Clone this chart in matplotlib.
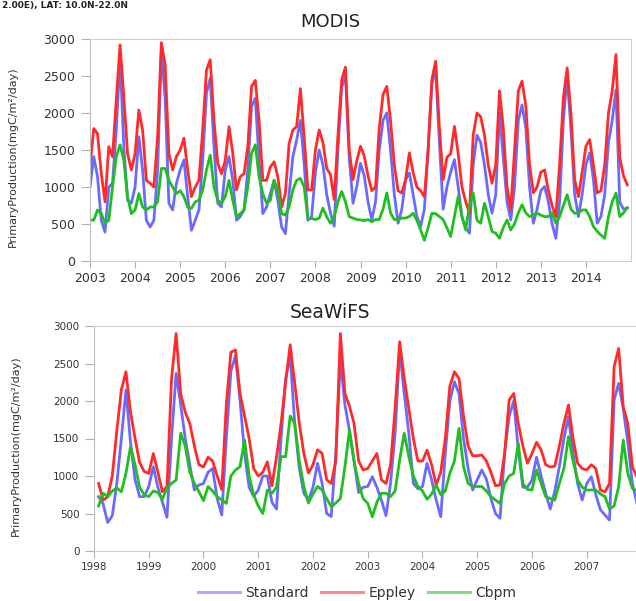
import numpy as np
import matplotlib.pyplot as plt
from matplotlib.lines import Line2D

plt.rcParams["font.family"] = ["DejaVu Sans"]

# MODIS monthly primary production, Jan 2003 - Dec 2014 (mgC/m2/day)
modis_start = 2003.0
modis_standard = [
    1000, 1410, 1140, 550, 390, 1000, 1050, 1770, 2760, 1545, 820, 780,     # 2003
    1000, 1680, 1230, 550, 460, 550, 1230, 2850, 2200, 780, 690, 1050,      # 2004
    1230, 1365, 870, 415, 550, 690, 1365, 2270, 2470, 1545, 780, 730,       # 2005
    1230, 1410, 1090, 550, 600, 690, 1230, 2090, 2200, 1365, 640, 730,      # 2006
    910, 1090, 820, 460, 370, 910, 1410, 1635, 1900, 1320, 550, 600,        # 2007
    1200, 1500, 1300, 900, 650, 470, 1500, 2350, 2500, 1400, 780, 1000,     # 2008
    1320, 1150, 800, 555, 800, 1500, 1900, 2000, 1500, 900, 510, 700,       # 2009
    1100, 1190, 900, 600, 465, 700, 1500, 2400, 2590, 1600, 700, 1000,      # 2010
    1200, 1370, 1000, 600, 450, 375, 1300, 1700, 1600, 1300, 900, 645,      # 2011
    900, 2000, 1400, 800, 555, 1000, 1900, 2110, 1800, 1000, 510, 700,      # 2012
    950, 1007, 800, 500, 307, 800, 1900, 2500, 1800, 900, 600, 900,         # 2013
    1300, 1460, 1100, 510, 600, 900, 1600, 1900, 2315, 800, 700, 715,       # 2014
]
modis_eppley = [
    1280, 1790, 1720, 1180, 800, 1545, 1410, 2180, 2920, 2220, 1450, 1230,
    1450, 2040, 1770, 1090, 1050, 1000, 1680, 2950, 2650, 1450, 1230, 1410,
    1500, 1660, 1230, 870, 1000, 1090, 1770, 2580, 2720, 1900, 1320, 1180,
    1360, 1816, 1455, 960, 1140, 1180, 1545, 2360, 2440, 1900, 1090, 1090,
    1270, 1340, 1140, 730, 910, 1590, 1770, 1816, 2330, 1680, 960, 960,
    1500, 1770, 1600, 1250, 1170, 830, 1700, 2450, 2620, 1500, 1100, 1350,
    1550, 1420, 1150, 950, 1000, 1800, 2250, 2360, 1900, 1300, 950, 920,
    1100, 1460, 1200, 1000, 950, 870, 1500, 2450, 2700, 1800, 1100, 1400,
    1450, 1820, 1450, 1000, 800, 645, 1700, 2000, 1950, 1700, 1300, 1050,
    1300, 2300, 1800, 1000, 690, 1500, 2300, 2430, 2100, 1300, 920, 1000,
    1200, 1230, 950, 750, 600, 1300, 2200, 2610, 2000, 1100, 870, 1200,
    1550, 1640, 1300, 920, 950, 1300, 2000, 2300, 2790, 1400, 1150, 1030,
]
modis_cbpm = [
    560, 550, 690, 640, 510, 550, 1000, 1410, 1570, 1365, 870, 640,
    690, 910, 730, 690, 730, 730, 800, 1250, 1250, 1090, 1000, 910,
    950, 870, 730, 710, 800, 820, 960, 1230, 1430, 1000, 820, 780,
    870, 1090, 820, 600, 640, 690, 1000, 1455, 1570, 1140, 910, 780,
    820, 1090, 960, 640, 620, 730, 960, 1090, 1116, 1000, 575, 575,
    560, 580, 715, 600, 510, 600, 800, 940, 800, 600, 580, 560,
    555, 545, 560, 530, 560, 560, 700, 920, 650, 560, 560, 580,
    580, 600, 645, 550, 420, 280, 450, 645, 640, 600, 560, 450,
    330, 600, 870, 600, 420, 750, 917, 550, 510, 780, 600, 400,
    375, 307, 450, 555, 420, 500, 650, 760, 650, 600, 620, 645,
    620, 600, 600, 650, 510, 600, 750, 895, 700, 645, 650, 690,
    690, 600, 465, 400, 350, 307, 600, 800, 917, 600, 650, 720,
]

# SeaWiFS monthly primary production, Feb 1998 - Dec 2007
seawifs_start = 1998.0 + 1 / 12
seawifs_standard = [
    725, 630, 380, 470, 900, 1500, 2146, 1450, 950, 725, 725,               # 1998 (Feb-Dec)
    860, 1124, 850, 650, 450, 1500, 2370, 1950, 1500, 1150, 813, 880,       # 1999
    900, 1050, 1100, 700, 480, 1500, 2400, 2600, 2013, 1300, 850, 730,      # 2000
    813, 1000, 1000, 650, 560, 1500, 2300, 2600, 1700, 1100, 770, 680,      # 2001
    850, 1170, 900, 500, 460, 1300, 2546, 1950, 1600, 1200, 780, 850,       # 2002
    860, 990, 850, 680, 470, 900, 1570, 2680, 2100, 1570, 900, 830,         # 2003
    860, 1170, 950, 680, 457, 1300, 2000, 2257, 2100, 1500, 1100, 813,      # 2004
    950, 1080, 960, 700, 500, 435, 1300, 1800, 2000, 1350, 850, 850,        # 2005
    947, 1250, 1000, 770, 560, 800, 1124, 1500, 1790, 1300, 900, 680,       # 2006
    900, 990, 750, 550, 480, 413, 2013, 2235, 1900, 1450, 900, 640,         # 2007
]
seawifs_eppley = [
    900, 680, 720, 1000, 1600, 2150, 2390, 1850, 1500, 1180, 1060,
    1035, 1300, 1050, 790, 860, 2300, 2900, 2100, 1850, 1700, 1400, 1150,
    1120, 1250, 1200, 1000, 820, 1950, 2650, 2680, 2100, 1800, 1500, 1100,
    1000, 1050, 1190, 870, 1250, 1700, 2250, 2750, 2235, 1700, 1300, 1040,
    1150, 1350, 1300, 950, 900, 1200, 2900, 2100, 1930, 1700, 1200, 1080,
    1100, 1200, 1300, 950, 900, 1150, 1900, 2790, 2300, 1900, 1500, 1200,
    1200, 1346, 1150, 880, 1050, 1500, 2200, 2390, 2300, 1800, 1400, 1270,
    1270, 1280, 1200, 1050, 870, 880, 1300, 2013, 2100, 1700, 1400, 1170,
    1300, 1450, 1350, 1150, 1120, 1130, 1400, 1700, 1947, 1500, 1170, 1100,
    1080, 1150, 1100, 813, 790, 900, 2460, 2700, 1925, 1700, 1124, 990,
]
seawifs_cbpm = [
    600, 770, 725, 800, 840, 790, 1035, 1390, 1150, 850, 750,
    725, 800, 780, 690, 840, 900, 947, 1570, 1400, 1050, 900, 790,
    670, 860, 800, 725, 680, 635, 1000, 1080, 1124, 1480, 1000, 750,
    600, 500, 813, 770, 850, 1258, 1258, 1800, 1700, 1200, 860, 640,
    760, 860, 813, 700, 590, 640, 700, 1124, 1613, 1200, 900, 700,
    635, 457, 650, 770, 770, 725, 800, 1213, 1570, 1258, 1000, 860,
    800, 690, 760, 880, 750, 800, 1035, 1200, 1635, 1124, 900, 860,
    860, 860, 800, 725, 680, 635, 900, 1000, 1035, 1435, 900, 820,
    813, 1080, 900, 725, 700, 680, 900, 1100, 1524, 1200, 947, 850,
    813, 813, 813, 760, 725, 560, 600, 860, 1480, 1035, 835, 800,
]

series_names = ["Standard", "Eppley", "Cbpm"]
series_colors = ["#6a6aff", "#ff2a2a", "#1fbf1f"]


def month_axis(start, n):
    return start + np.arange(n) / 12.0


def style_axes(ax, label_size):
    for side in ["top", "right", "bottom"]:
        ax.spines[side].set_color("#d0d0d0")
    ax.spines["left"].set_color("#bdbdbd")
    ax.tick_params(axis="both", colors="#b0b0b0", labelcolor="#333333",
                   labelsize=label_size, length=6.5, width=0.8, pad=4)
    ax.set_ylim(0, 3000)
    ax.set_yticks(np.arange(0, 3001, 500))
    ax.set_ylabel("PrimaryProduction(mgC/m²/day)", fontsize=8, color="#333333")


fig = plt.figure(figsize=(6.36, 6.01), dpi=100)

# MODIS panel
ax1 = fig.add_axes([90 / 636, 1 - 261 / 601, 541 / 636, 222 / 601])
x1 = month_axis(modis_start, len(modis_standard))
for vals, c in zip([modis_standard, modis_eppley, modis_cbpm], series_colors):
    ax1.plot(x1, vals, color=c, lw=2.0, solid_joinstyle="round")
ax1.set_xlim(2003, 2015)
ax1.set_xticks(np.arange(2003, 2015))
style_axes(ax1, 9)
ax1.tick_params(axis="x", length=5, pad=3)
ax1.yaxis.set_label_coords(-0.133, 0.47)
fig.text(330 / 636, 1 - 22 / 601, "MODIS", ha="center", va="center",
         fontsize=13, color="#222222")

# SeaWiFS panel
ax2 = fig.add_axes([94 / 636, 1 - 551 / 601, 542 / 636, 225 / 601])
x2 = month_axis(seawifs_start, len(seawifs_standard))
for vals, c in zip([seawifs_standard, seawifs_eppley, seawifs_cbpm], series_colors):
    ax2.plot(x2, vals, color=c, lw=2.0, solid_joinstyle="round")
ax2.set_xlim(1998, 2007.9)
ax2.set_xticks(np.arange(1998, 2008))
style_axes(ax2, 7.5)
ax2.tick_params(axis="x", length=5, pad=3)
ax2.yaxis.set_label_coords(-0.135, 0.47)
fig.text(330 / 636, 1 - 313 / 601, "SeaWiFS", ha="center", va="center",
         fontsize=13.5, color="#222222")

# region header in the top-left corner
fig.text(2 / 636, 1 - 1 / 601, "2.00E), LAT: 10.0N-22.0N", ha="left",
         va="top", fontsize=6.5, fontweight="bold", color="#222222")

handles = [Line2D([], [], color=c, lw=2.2, alpha=0.55) for c in series_colors]
fig.legend(handles, series_names, loc="center", ncol=3, frameon=False,
           bbox_to_anchor=(357 / 636, 1 - 593 / 601), fontsize=10,
           handlelength=3.0, handletextpad=0.4, columnspacing=0.9,
           labelcolor="#333333")

fig.savefig("out.png", dpi=100)
